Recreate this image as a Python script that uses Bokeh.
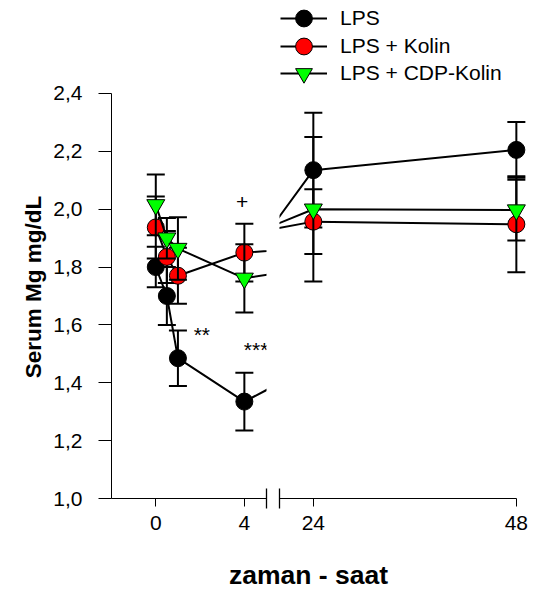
import math
from bokeh.plotting import figure
from bokeh.models import (Range1d, FixedTicker, CustomJSTickFormatter, Legend,
                          LegendItem, Label)
from bokeh.layouts import column, row
from bokeh.embed import file_html
from bokeh.resources import INLINE

# ---------------- data ----------------
hours = [0, 0.5, 1, 4, 24, 48]
series_names = ["LPS", "LPS + Kolin", "LPS + CDP-Kolin"]
lps_mean = [1.80, 1.70, 1.485, 1.335, 2.135, 2.205]
lps_se = [0.07, 0.10, 0.096, 0.10, 0.198, 0.096]
kolin_mean = [1.937, 1.835, 1.77, 1.85, 1.957, 1.948]
kolin_se = [0.107, 0.09, 0.097, 0.10, 0.112, 0.166]
cdp_mean = [2.015, 1.90, 1.864, 1.761, 2.0, 1.997]
cdp_se = [0.105, 0.07, 0.108, 0.118, 0.25, 0.105]

y_ticks = [1.0, 1.2, 1.4, 1.6, 1.8, 2.0, 2.2, 2.4]
left_ticks = [0, 4]
right_ticks = [24, 48]

sig_texts = ["+", "**", "***"]
sig_hours = [3.9, 2.08, 4.53]
sig_values = [2.024, 1.568, 1.515]

y_label = "Serum Mg mg/dL"
x_label = "zaman - saat"

# ---------------- style ----------------
FONT = "Liberation Sans"
markers = ["circle", "circle", "inverted_triangle"]
fills = ["#000000", "#ff0000", "#00ff00"]
sizes = [17, 17, 18]
means = [lps_mean, kolin_mean, cdp_mean]
ses = [lps_se, kolin_se, cdp_se]

# frame: 498 px tall, 289.3 px per unit
y_range = Range1d(1.0, 1.0 + 498 / 289.3)


def style_axis(ax):
    ax.axis_line_color = "black"
    ax.axis_line_width = 1
    ax.major_tick_line_color = "black"
    ax.major_tick_line_width = 1
    ax.major_tick_in = 0
    ax.major_tick_out = 8
    ax.minor_tick_line_color = "black"
    ax.minor_tick_line_width = 1.3
    ax.minor_tick_in = 10
    ax.minor_tick_out = 10
    ax.major_label_text_font = FONT
    ax.major_label_text_font_size = "21px"
    ax.major_label_text_color = "black"


def add_series(p):
    out = []
    for m, s, mk, fc, sz in zip(means, ses, markers, fills, sizes):
        lo = [a - b for a, b in zip(m, s)]
        hi = [a + b for a, b in zip(m, s)]
        p.segment(x0=hours, y0=lo, x1=hours, y1=hi, line_color="black", line_width=2)
        p.scatter(x=hours + hours, y=lo + hi, marker="dash", size=18,
                  line_color="black", line_width=2)
        lr = p.line(x=hours, y=m, line_color="black", line_width=2)
        mr = p.scatter(x=hours, y=m, marker=mk, size=sz, fill_color=fc,
                       line_color="black", line_width=1)
        out.append((lr, mr))
    return out


common = dict(height=548, y_range=y_range, output_backend="svg",
              toolbar_location=None, title=None, min_border_top=0,
              min_border_bottom=50, outline_line_color=None)

# strip holding the y axis title (frame bottom at 498 px)
pY = figure(width=50, x_axis_location=None, y_axis_location=None,
            min_border_left=0, min_border_right=0, **common)
pY.grid.visible = False
pY.add_layout(Label(x=33, y=498 - 286.5, x_units="screen", y_units="screen",
                    text=y_label, angle=math.pi / 2, text_align="center",
                    text_baseline="middle", text_font=FONT,
                    text_font_style="bold", text_font_size="22.5px",
                    text_color="black"))

# left segment (0 - 4 h)
p1 = figure(width=221, x_range=Range1d(-2, 5), min_border_left=61,
            min_border_right=5, **common)
# right segment (24 - 48 h)
p2 = figure(width=257, x_range=Range1d(20, 49.2), min_border_left=8,
            min_border_right=2, y_axis_location=None, **common)

for p in (p1, p2):
    p.grid.visible = False
    style_axis(p.xaxis[0])
    p.xaxis[0].major_label_standoff = 7

p1.xaxis[0].ticker = FixedTicker(ticks=left_ticks, minor_ticks=[p1.x_range.end])
p1.xaxis[0].bounds = (p1.x_range.start, p1.x_range.end)
p2.xaxis[0].ticker = FixedTicker(ticks=right_ticks, minor_ticks=[p2.x_range.start])
p2.xaxis[0].bounds = (p2.x_range.start, right_ticks[-1])

ya = p1.yaxis[0]
style_axis(ya)
ya.major_tick_out = 13
ya.major_label_standoff = 16
ya.ticker = FixedTicker(ticks=y_ticks)
ya.bounds = (y_ticks[0], y_ticks[-1])
ya.formatter = CustomJSTickFormatter(code="return tick.toFixed(1).replace('.', ',');")

add_series(p1)
rends = add_series(p2)

for t, h, v in zip(sig_texts, sig_hours, sig_values):
    p1.add_layout(Label(x=h, y=v, text=t, text_align="center",
                        text_baseline="alphabetic", text_font=FONT,
                        text_font_size="21px", text_color="black"))

# one legend per entry so the large legend markers keep the tight row pitch
row_bottoms = [459, 431.5, 404]
for n, (lr, mr), yb in zip(series_names, rends, row_bottoms):
    lg = Legend(
        items=[LegendItem(label=n, renderers=[lr, mr])],
        location=(1, yb), orientation="vertical",
        glyph_width=47, glyph_height=42, label_height=42, spacing=0,
        label_standoff=13, padding=0, margin=0, border_line_color=None,
        background_fill_alpha=0, label_text_font=FONT,
        label_text_font_size="21px", label_text_color="black")
    p2.add_layout(lg)

# bottom strip for the shared x axis title
p3 = figure(width=528, height=43, title=None, toolbar_location=None,
            output_backend="svg", x_axis_location=None, y_axis_location=None,
            min_border=0, min_border_left=0, min_border_right=0,
            min_border_top=0, min_border_bottom=0, outline_line_color=None)
p3.grid.visible = False
p3.add_layout(Label(x=308, y=17, x_units="screen", y_units="screen",
                    text=x_label, text_align="center", text_baseline="middle",
                    text_font=FONT, text_font_style="bold",
                    text_font_size="26.5px", text_color="black"))

layout = column(row(pY, p1, p2), p3)
open("out.html", "w").write(file_html(layout, INLINE))
